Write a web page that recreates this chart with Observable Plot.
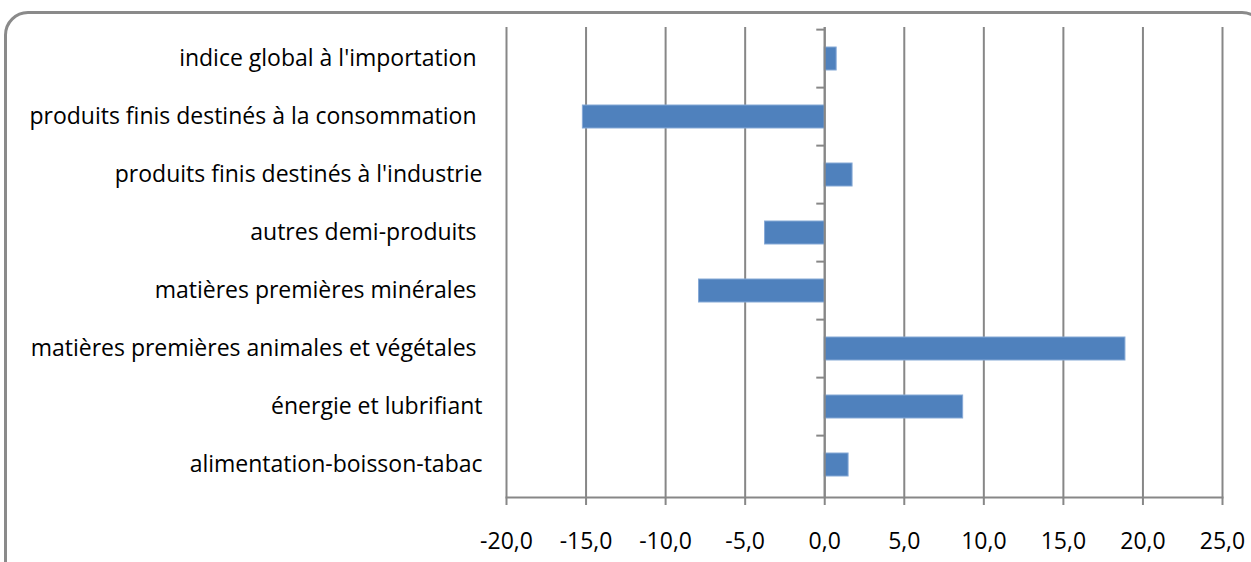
<!DOCTYPE html>
<html>
<head>
<meta charset="utf-8">
<script src="https://cdn.jsdelivr.net/npm/d3@7"></script>
<script src="https://cdn.jsdelivr.net/npm/@observablehq/plot@0.6"></script>
<style>
  html, body { margin: 0; padding: 0; background: #fff; }
  #wrap { position: relative; width: 1251px; height: 562px; overflow: hidden; }
  #frame { position: absolute; left: 4px; top: 11px; width: 1262px; height: 600px;
           border: 3px solid #8a8a8a; border-radius: 24px; box-sizing: border-box; }
  #chart { position: absolute; left: 0; top: 0; }
</style>
</head>
<body>
<div id="wrap"><div id="frame"></div><div id="chart"></div></div>
<script>
const categories = [
  "indice global à l'importation ",
  "produits finis destinés à la consommation ",
  "produits finis destinés à l'industrie",
  "autres demi-produits ",
  "matières premières minérales ",
  "matières premières animales et végétales ",
  "énergie et lubrifiant",
  "alimentation-boisson-tabac"
];
const values = [0.75, -15.2, 1.75, -3.75, -7.9, 18.9, 8.7, 1.5];
const xTicks = [-20, -15, -10, -5, 0, 5, 10, 15, 20, 25];

const data = categories.map((c, i) => ({category: c, value: values[i]}));

const W = 1251, H = 562;
const mt = 27, mb = 65, ml = 506, mr = 29;
const step = (H - mt - mb) / categories.length;
const fmt = d => d.toFixed(1).replace(".", ",");
const grey = "#878787";

const chart = Plot.plot({
  width: W, height: H,
  marginTop: mt, marginBottom: mb, marginLeft: ml, marginRight: mr,
  style: {fontFamily: "Open Sans", fontSize: "23px", color: "#000", background: "transparent"},
  x: {domain: [-20, 25], ticks: xTicks},
  y: {domain: categories, paddingInner: 0.6, paddingOuter: 0.3},
  marks: [
    Plot.gridX(xTicks, {stroke: grey, strokeOpacity: 1, strokeWidth: 2}),
    Plot.barX(data, {x: "value", y: "category", fill: "#4F81BD", stroke: "#86a9d6", strokeWidth: 1}),
    Plot.ruleX([0], {stroke: grey, strokeWidth: 2}),
    Plot.ruleY(categories, {y: d => d, x1: 0, x2: -0.5, dy: -step / 2, stroke: grey, strokeWidth: 2}),
    Plot.frame({anchor: "bottom", stroke: grey, strokeWidth: 2}),
    Plot.axisX({ticks: xTicks, tickFormat: fmt, tickSize: 8, tickPadding: 27, stroke: grey, strokeWidth: 2, fontSize: 23, label: null}),
    Plot.axisY({tickSize: 0, tickPadding: 24, label: null, fontSize: 23,
      tickFormat: d => d.replace(/ $/, "\u00a0")})
  ]
});
document.getElementById("chart").appendChild(chart);
</script>
</body>
</html>
